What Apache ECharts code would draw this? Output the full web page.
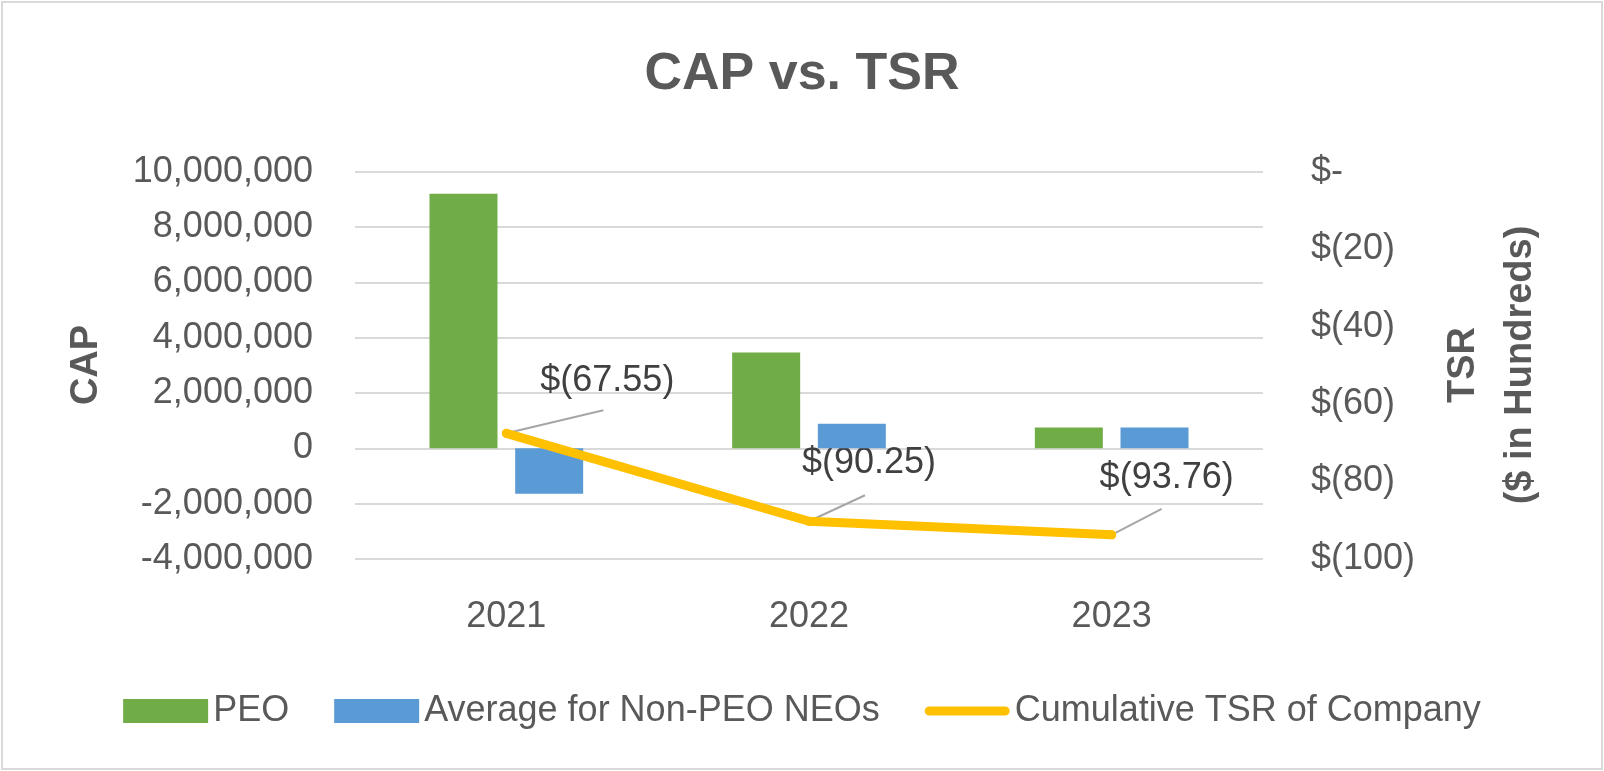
<!DOCTYPE html>
<html>
<head>
<meta charset="utf-8">
<script src="https://cdn.jsdelivr.net/npm/echarts@6/dist/echarts.min.js"></script>
<style>
  html, body { margin: 0; padding: 0; background: #fff; }
  #chart { width: 1604px; height: 771px; }
</style>
</head>
<body>
<div id="chart"></div>
<script>
// ---- data ----
const years = ['2021', '2022', '2023'];
const peoCap = [9200000, 3460000, 750000];
const neoCap = [-1640000, 890000, 750000];
const tsr = [-67.55, -90.25, -93.76];
const seriesNames = ['PEO', 'Average for Non-PEO NEOs', 'Cumulative TSR of Company'];

// ---- styles (pixel offsets of data labels / leader lines relative to point) ----
const labelOffsets = [[101, -52], [60, -58], [55, -57]];
const leaderEnds = [[97, -23], [56, -26], [50, -26]];

const FONT = '"Liberation Sans", Arial, sans-serif';
const chart = echarts.init(document.getElementById('chart'));

function tsrFmt(v) {
  if (v === 0) return '$-';
  return v < 0 ? '$(' + Math.abs(v) + ')' : '$' + v;
}

chart.setOption({
  animation: false,
  backgroundColor: '#ffffff',
  title: {
    text: 'CAP vs. TSR',
    left: 'center',
    top: 49,
    padding: 0,
    textStyle: { fontFamily: FONT, fontSize: 52, fontWeight: 'bold', color: '#595959' }
  },
  legend: {
    data: [
      { name: seriesNames[0], icon: 'rect' },
      { name: seriesNames[1], icon: 'rect' },
      { name: seriesNames[2], icon: 'path://M5,0 L87,0 A5,5 0 0 1 87,10 L5,10 A5,5 0 0 1 5,0 Z' }
    ],
    left: 'center',
    top: 688,
    itemWidth: 85,
    itemHeight: 24,
    itemGap: 45,
    textStyle: { fontFamily: FONT, fontSize: 36, color: '#595959' }
  },
  grid: { left: 355, right: 341, top: 171.7, bottom: 212, containLabel: false },
  xAxis: {
    type: 'category',
    data: years,
    axisLine: { show: false },
    axisTick: { show: false },
    axisLabel: { fontFamily: FONT, fontSize: 36, color: '#595959', margin: 40 }
  },
  yAxis: [
    {
      type: 'value',
      min: -4000000,
      max: 10000000,
      interval: 2000000,
      axisLine: { show: false },
      axisTick: { show: false },
      splitLine: { lineStyle: { color: '#D9D9D9', width: 2 } },
      axisLabel: {
        fontFamily: FONT, fontSize: 36, color: '#595959', margin: 42,
        formatter: v => v.toLocaleString('en-US')
      }
    },
    {
      type: 'value',
      min: -100,
      max: 0,
      interval: 20,
      position: 'right',
      axisLine: { show: false },
      axisTick: { show: false },
      splitLine: { show: false },
      axisLabel: {
        fontFamily: FONT, fontSize: 36, color: '#595959', margin: 48,
        formatter: tsrFmt
      }
    }
  ],
  series: [
    {
      name: seriesNames[0], type: 'bar', data: peoCap,
      barWidth: 68, barGap: '26%',
      itemStyle: { color: '#70AD47' }
    },
    {
      name: seriesNames[1], type: 'bar', data: neoCap,
      barWidth: 68, barGap: '26%',
      itemStyle: { color: '#5B9BD5' }
    },
    {
      name: seriesNames[2], type: 'line', data: tsr, yAxisIndex: 1,
      symbol: 'circle', symbolSize: 9,
      itemStyle: { color: '#FFC000' },
      lineStyle: { color: '#FFC000', width: 9, cap: 'round', join: 'round' }
    },
    {
      type: 'custom', yAxisIndex: 1, data: tsr, silent: true,
      renderItem: function (params, api) {
        const i = params.dataIndex;
        const p = api.coord([api.value(0), api.value(1)]);
        const le = leaderEnds[i], lo = labelOffsets[i];
        return {
          type: 'group',
          children: [
            {
              type: 'line',
              shape: { x1: p[0], y1: p[1], x2: p[0] + le[0], y2: p[1] + le[1] },
              style: { stroke: '#A6A6A6', lineWidth: 2 }
            },
            {
              type: 'text',
              style: {
                text: '$(' + Math.abs(tsr[i]).toFixed(2) + ')',
                x: p[0] + lo[0], y: p[1] + lo[1],
                align: 'center', verticalAlign: 'middle',
                font: '36px ' + FONT, fill: '#404040'
              }
            }
          ]
        };
      },
      encode: { x: 0, y: 1 }
    }
  ],
  graphic: [
    {
      type: 'rect', silent: true,
      shape: { x: 2, y: 2, width: 1600, height: 767 },
      style: { fill: 'none', stroke: '#D9D9D9', lineWidth: 2 }
    },
    {
      type: 'text', x: 87, y: 365, rotation: Math.PI / 2,
      style: {
        text: 'CAP', align: 'center', verticalAlign: 'middle',
        font: 'bold 38px ' + FONT, fill: '#595959'
      }
    },
    {
      type: 'text', x: 1492, y: 365, rotation: Math.PI / 2,
      style: {
        text: 'TSR\n($ in Hundreds)', align: 'center', verticalAlign: 'middle',
        lineHeight: 57,
        font: 'bold 38px ' + FONT, fill: '#595959'
      }
    }
  ]
});
</script>
</body>
</html>
